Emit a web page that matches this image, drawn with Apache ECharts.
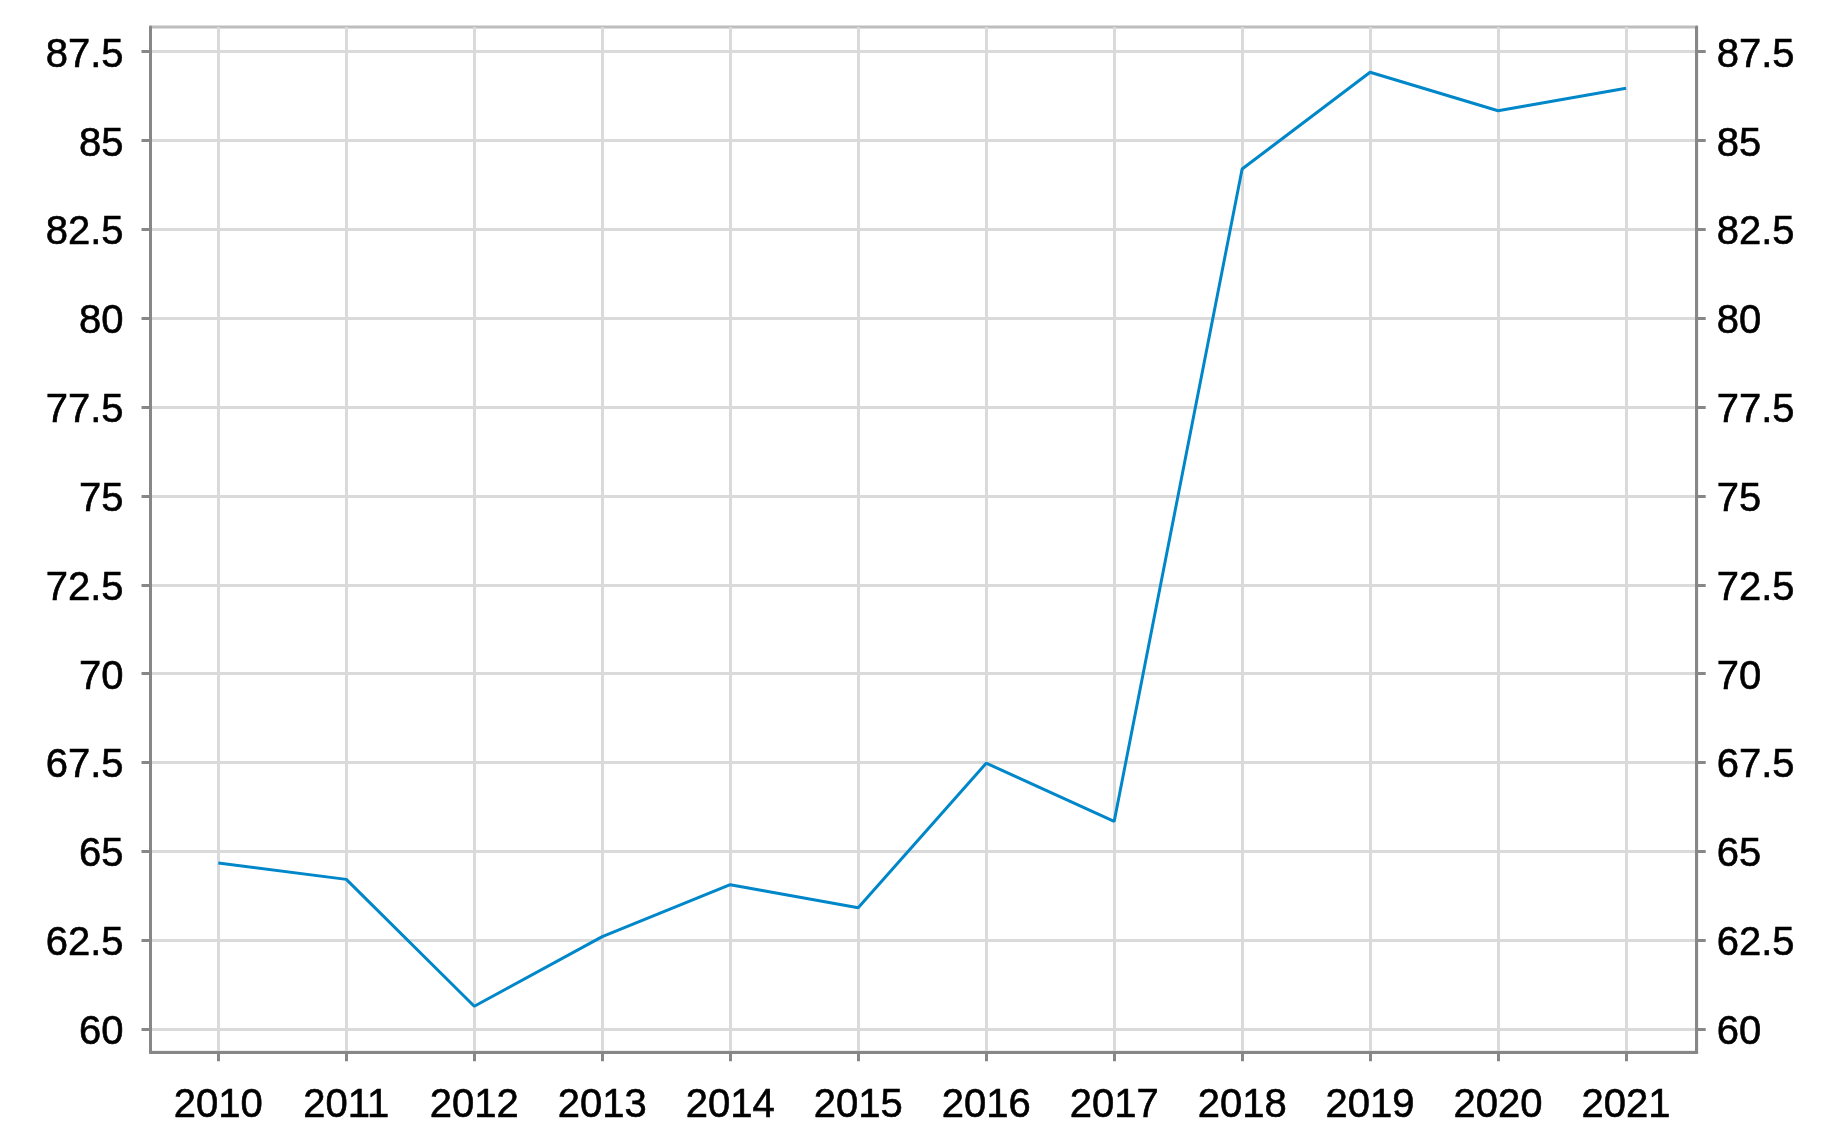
<!DOCTYPE html>
<html>
<head>
<meta charset="utf-8">
<script src="https://cdn.jsdelivr.net/npm/echarts@6/dist/echarts.min.js"></script>
<style>
html,body{margin:0;padding:0;background:#fff;}
#chart{width:1826px;height:1146px;}
</style>
</head>
<body>
<div id="chart"></div>
<script>
var years = [2010, 2011, 2012, 2013, 2014, 2015, 2016, 2017, 2018, 2019, 2020, 2021];
var values = [64.67, 64.21, 60.64, 62.6, 64.06, 63.41, 67.48, 65.84, 84.2, 86.92, 85.84, 86.47];
var yTicks = [60, 62.5, 65, 67.5, 70, 72.5, 75, 77.5, 80, 82.5, 85, 87.5];

var points = years.map(function (y, i) { return [y, values[i]]; });

var FONT = '"Liberation Sans", Arial, sans-serif';
var AXIS_COLOR = '#878787';
var GRID_COLOR = '#dadada';

var chart = echarts.init(document.getElementById('chart'), null, {renderer: 'canvas'});

function yAxisDef(pos, margin, showSplit) {
  return {
    type: 'value',
    position: pos,
    min: 59.344,
    max: 88.195,
    axisLine: {show: true, onZero: false, lineStyle: {color: AXIS_COLOR, width: 3}},
    axisTick: {show: true, inside: false, length: 9, customValues: yTicks, lineStyle: {color: AXIS_COLOR, width: 3}},
    axisLabel: {
      show: true, customValues: yTicks, margin: margin,
      color: '#000', fontFamily: FONT, fontSize: 40,
      textBorderColor: '#000', textBorderWidth: 0.6,
      verticalAlign: 'top', lineHeight: 8
    },
    splitLine: {show: showSplit, lineStyle: {color: GRID_COLOR, width: 3}}
  };
}

chart.setOption({
  animation: false,
  backgroundColor: '#fff',
  grid: {
    left: 150.5, right: 129.3, top: 27, bottom: 93.7,
    show: true, borderColor: '#bdbdbd', borderWidth: 3,
    containLabel: false
  },
  xAxis: {
    type: 'value',
    min: 2009.47,
    max: 2021.552,
    axisLine: {show: true, onZero: false, lineStyle: {color: AXIS_COLOR, width: 3}},
    axisTick: {show: true, length: 9, customValues: years, lineStyle: {color: AXIS_COLOR, width: 3}},
    axisLabel: {
      show: true, customValues: years, margin: 34,
      color: '#000', fontFamily: FONT, fontSize: 40,
      textBorderColor: '#000', textBorderWidth: 0.6,
      formatter: function (v) { return String(v); }
    },
    splitLine: {show: true, lineStyle: {color: GRID_COLOR, width: 3}}
  },
  yAxis: [yAxisDef('left', 27, true), yAxisDef('right', 20, false)],
  series: [{
    type: 'line',
    data: points,
    yAxisIndex: 0,
    showSymbol: false,
    symbol: 'none',
    lineStyle: {color: '#0087c9', width: 3},
    z: 5
  }]
});
</script>
</body>
</html>
